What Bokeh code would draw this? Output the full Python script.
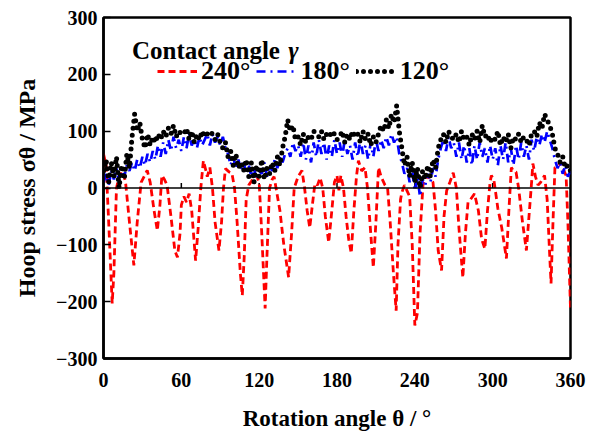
from bokeh.plotting import figure
from bokeh.models import Legend, LegendItem, Label, Span, FixedTicker, Range1d
from bokeh.embed import file_html
from bokeh.resources import INLINE

FONT = "Liberation Serif"

# ---- data ----
x_ticks = [0, 60, 120, 180, 240, 300, 360]
y_ticks = [-300, -200, -100, 0, 100, 200, 300]

# contact angle 240 deg (red dashed)
red_angle = [0, 2, 4, 6.7, 8, 10, 12, 15, 17, 20,
             23.4, 26, 29, 33.7, 36, 39, 41.5, 43.5, 45, 47,
             49, 52, 55, 57, 59, 60, 62, 64, 66, 68,
             71, 73, 75, 77, 79, 80, 82, 84, 86, 89,
             91, 92.5, 94, 97, 99, 101, 103, 105.5, 107, 108.5,
             110, 112, 115, 118, 120, 122, 124.6, 126, 128, 130,
             131.5, 133, 136, 139, 142.7, 145, 147, 150, 153, 155,
             157, 159, 161, 163, 165, 167, 169, 171, 173.6, 176,
             178, 180, 181.5, 183, 185, 187, 189, 191, 193, 195,
             196.5, 199, 201.6, 203.5, 206, 208, 210, 212, 214, 217,
             219, 221, 223.5, 225.6, 227, 229, 230, 232, 234, 236,
             238, 240, 242, 244, 246.4, 248, 250.4, 252, 254, 256,
             258, 260.6, 262.5, 264.5, 267, 269.6, 272, 274, 277, 279,
             281, 283, 286, 289, 291.5, 294, 296, 298, 299, 301,
             302, 304, 307, 310.6, 312.5, 314.4, 316, 318, 320, 323,
             326, 328, 330, 331, 333, 335, 337, 340, 342, 344,
             345, 346.5, 348, 351, 353, 355, 356.6, 358, 360]
red_stress = [60, 40, -60, -203, -150, 0, 20, 30, 10, -60,
              -136, -60, 10, 31, 10, -40, -75, -30, 22, 15,
              5, -50, -110, -122, -80, -30, -15, -25, -10, -40,
              -128, -70, 0, 48, 30, 20, 36, 0, -60, -110,
              -60, 0, 34, 28, 26, 0, -60, -150, -189, -120,
              -20, 5, 15, 22, 10, -80, -212, -120, 0, 15,
              20, 0, -40, -100, -157, -80, 0, 20, 31, 0,
              -40, -70, -30, 8, 5, 18, 0, -50, -96, -40,
              10, 22, -4, 22, 0, -50, -90, -115, -40, 20,
              48, 30, 36, 0, -80, -140, -60, 36, 20, 5,
              0, -60, -150, -216, -100, -20, -8, 5, -5, -15,
              -100, -242, -220, -80, 9, 15, 22, 15, 10, -40,
              -110, -145, -50, -5, 10, 27, 0, -70, -158, -80,
              -25, -20, -10, -40, -90, -107, -40, 10, 22, 13,
              -3, -36, -70, -124, -40, 36, 30, 28, 0, -60,
              -110, -50, 10, 43, 20, 5, 10, 22, -20, -120,
              -168, -60, 36, 40, 45, 30, 22, -60, -212]

# angles of the 180 deg and 120 deg series (every 2 deg)
grid_angle = list(range(0, 361, 2))

# contact angle 180 deg (blue dash-dot)
blue_stress = [10, 25, 5, 30, 15, 35, 10, 30, 20, 40, 30,
               45, 30, 50, 35, 55,
               40, 60, 45, 65, 50, 75, 55, 80, 60, 85, 65, 90, 70, 85, 65,
               90, 70, 95, 75, 85, 70, 90, 75, 85, 95, 75, 95, 80, 90, 75,
               90, 70, 60, 40, 55, 35, 50, 30, 45, 25,
               40, 20, 35, 15, 30, 25, 45, 20, 40, 30, 50, 35, 55,
               45, 60, 70, 55, 80, 65, 75,
               55, 80, 50, 75, 45, 80, 55, 85, 60, 80, 50, 75, 55, 85, 60,
               80, 55, 85, 60, 75, 50, 80, 55, 85, 60, 75, 50, 80, 55, 85,
               65, 85, 70, 90, 75, 95, 80, 90, 60,
               45, 25, 35, 10, 30, -5, 20, -15, 15, 5, 25, 10, 35, 20,
               50, 70, 85, 65, 90, 70, 80,
               55, 80, 50, 75, 45, 70, 40, 75, 50, 80, 55, 70, 45, 75, 50,
               70, 40, 75, 50, 80, 45, 70, 40, 75, 50, 80, 55, 75, 50, 85,
               65, 90, 75, 95, 80, 100, 85, 70,
               50, 35, 45, 25, 40, 20, 30]

# contact angle 120 deg (black dotted)
black_stress = [30, 50, 10, 45, 20, 55, 0, 40, 15, 60, 35,
                90, 130, 100, 115, 85,
                70, 95, 75, 90, 80, 95, 85, 100, 90, 105, 95, 110, 90, 100, 95,
                95, 105, 85, 100, 80, 95, 85, 100, 90, 95, 100, 95, 85, 95, 80,
                70, 80, 55, 65, 40, 60, 35, 45, 30, 50,
                20, 45, 10, 40, 20, 50, 15, 35, 25, 45, 30, 55, 40,
                70, 90, 120, 100, 110, 85, 90,
                75, 95, 80, 90, 85, 100, 95, 90, 100, 85, 95, 90, 100, 95, 85,
                90, 100, 80, 95, 85, 100, 90, 95, 80, 100, 85, 95, 75, 90, 80,
                95, 110, 100, 120, 105, 130, 115, 145, 100,
                70, 40, 55, 20, 45, 10, 35, 0, 30, 15, 40, 20, 50, 35,
                70, 85, 95, 80, 100, 90, 85,
                95, 80, 100, 85, 90, 75, 95, 85, 100, 80, 110, 90, 95, 80, 90,
                85, 100, 75, 90, 80, 95, 70, 90, 85, 95, 80, 90, 85, 75, 95,
                100, 90, 115, 105, 130, 120, 110, 95,
                70, 60, 45, 55, 35, 40, 30]

legend_labels = ["240°", "180°", "120°"]

assert len(red_angle) == len(red_stress)
assert len(grid_angle) == len(blue_stress) == len(black_stress)

# ---- figure ----
p = figure(width=598, height=441, output_backend="svg", toolbar_location=None,
           x_range=Range1d(0, 360), y_range=Range1d(-300, 300),
           min_border_left=103, min_border_right=28, min_border_top=17,
           min_border_bottom=83)
p.xgrid.visible = False
p.ygrid.visible = False
p.outline_line_color = "black"
p.outline_line_width = 2.5
p.background_fill_color = "white"
p.border_fill_color = "white"

# zero line with small ticks
p.add_layout(Span(location=0, dimension="width", line_color="black", line_width=1.5))
inner_ticks = x_ticks[1:-1]
p.segment(x0=inner_ticks, y0=[0] * len(inner_ticks), x1=inner_ticks,
          y1=[9] * len(inner_ticks), line_color="black", line_width=1.5)

r_red = p.line(red_angle, red_stress, line_color="#FF0000", line_width=2.8,
               line_dash="7 4")
r_blue = p.line(grid_angle, blue_stress, line_color="#0000FF", line_width=2.7,
                line_dash="9 5 2 5")
r_black = p.line(grid_angle, black_stress, line_color="black", line_width=5,
                 line_dash="0 7", line_cap="round")

# axes
xa = p.xaxis[0]
xa.ticker = FixedTicker(ticks=x_ticks)
xa.axis_line_width = 2.5
xa.major_tick_in = 0
xa.major_tick_out = 0
xa.minor_tick_line_color = None
xa.major_label_standoff = 14
xa.major_label_text_font = FONT
xa.major_label_text_font_style = "bold"
xa.major_label_text_font_size = "20px"
xa.major_label_text_color = "black"
xa.axis_label = "Rotation angle θ / °"
xa.axis_label_text_font = FONT
xa.axis_label_text_font_style = "bold"
xa.axis_label_text_font_size = "23px"
xa.axis_label_text_color = "black"
xa.axis_label_standoff = 16

ya = p.yaxis[0]
ya.ticker = FixedTicker(ticks=y_ticks)
ya.axis_line_width = 2.5
ya.major_tick_in = 7
ya.major_tick_out = 0
ya.major_tick_line_width = 1.5
ya.minor_tick_line_color = None
ya.major_label_standoff = 6
ya.major_label_text_font = FONT
ya.major_label_text_font_style = "bold"
ya.major_label_text_font_size = "20px"
ya.major_label_text_color = "black"
ya.axis_label = "Hoop stress σθ / MPa"
ya.axis_label_text_font = FONT
ya.axis_label_text_font_style = "bold"
ya.axis_label_text_font_size = "24px"
ya.axis_label_text_color = "black"
ya.axis_label_standoff = 13

# legend
p.add_layout(Label(x=22, y=242, text="Contact angle", text_font=FONT,
                   text_font_style="bold", text_font_size="25px",
                   text_color="black", text_baseline="alphabetic"))
p.add_layout(Label(x=142.5, y=242, text="γ", text_font=FONT,
                   text_font_style="bold italic", text_font_size="25px",
                   text_color="black", text_baseline="alphabetic"))

legend = Legend(items=[LegendItem(label=legend_labels[0], renderers=[r_red]),
                       LegendItem(label=legend_labels[1], renderers=[r_blue]),
                       LegendItem(label=legend_labels[2], renderers=[r_black])],
                orientation="horizontal", location=(54, 272),
                padding=0, margin=0, spacing=6, glyph_width=40, glyph_height=20,
                label_standoff=4, background_fill_alpha=0, border_line_alpha=0,
                label_text_font=FONT, label_text_font_style="bold",
                label_text_font_size="26px", label_text_color="black")
p.add_layout(legend)

open("out.html", "w").write(file_html(p, INLINE))
